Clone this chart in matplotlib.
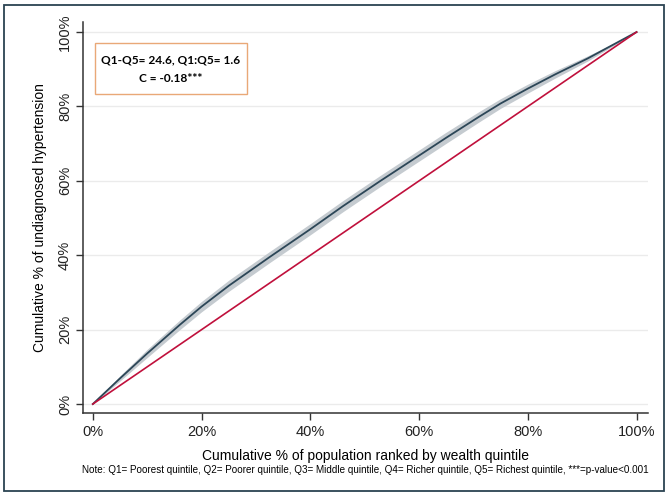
import matplotlib.pyplot as plt
from matplotlib.patches import Rectangle

# concentration curve (% of population, % of cases)
pop_pct = [0, 5, 10, 16, 20, 25, 32.6, 40, 46, 52.8, 60, 65, 71, 75, 80, 85, 91, 100]
cum_pct = [0, 6.9, 13.6, 21.3, 26.2, 31.8, 39.6, 47.0, 53.2, 59.9, 66.8, 71.6, 77.2, 80.8, 84.8, 88.6, 92.9, 100]
ci_low = [0, 6.2, 12.5, 20.0, 24.8, 30.3, 38.1, 45.5, 51.7, 58.4, 65.3, 70.1, 75.8, 79.5, 83.6, 87.6, 92.2, 100]
ci_high = [0, 7.6, 14.7, 22.6, 27.6, 33.3, 41.1, 48.5, 54.7, 61.4, 68.3, 73.1, 78.6, 82.1, 86.0, 89.6, 93.6, 100]
equality = [0, 100]

xticks = [0, 20, 40, 60, 80, 100]
tick_labels = ['0%', '20%', '40%', '60%', '80%', '100%']

box_lines = ['Q1-Q5= 24.6, Q1:Q5= 1.6', 'C = -0.18***']
note = ('Note: Q1= Poorest quintile, Q2= Poorer quintile, Q3= Middle quintile, '
        'Q4= Richer quintile, Q5= Richest quintile, ***=p-value<0.001')

plt.rcParams['font.family'] = ['Liberation Sans', 'DejaVu Sans']

W, H = 671, 496
fig = plt.figure(figsize=(W / 100, H / 100), dpi=100)
fig.patches.append(Rectangle((4 / W, 1 - 491 / H), 660 / W, 486 / H,
                             transform=fig.transFigure, fill=False,
                             edgecolor='#2b4352', linewidth=1.3))

ax = fig.add_axes([83 / W, 1 - 413 / H, 565 / W, 391 / H])
ax.fill_between(pop_pct, ci_low, ci_high, color='#c5cbd0', linewidth=0, zorder=2)
ax.plot(pop_pct, cum_pct, color='#2c4657', linewidth=1.3, zorder=3)
ax.plot(equality, equality, color='#c0103c', linewidth=1.2, zorder=4)

ax.set_xlim(-1.8, 102.1)
ax.set_ylim(-2.4, 102.7)
ax.set_xticks(xticks)
ax.set_xticklabels(tick_labels, fontsize=10.5, color='#222222')
ax.set_yticks(xticks)
ax.set_yticklabels(tick_labels, fontsize=10.5, color='#222222', rotation=90, va='center')
ax.tick_params(direction='out', length=5, width=1, color='#333333')
ax.tick_params(axis='x', pad=4)
ax.tick_params(axis='y', pad=3)
ax.yaxis.grid(True, color='#ebebeb', linewidth=1)
ax.set_axisbelow(True)
for side in ['top', 'right']:
    ax.spines[side].set_visible(False)
for side in ['left', 'bottom']:
    ax.spines[side].set_color('#333333')
    ax.spines[side].set_linewidth(1.1)

ax.set_xlabel('Cumulative % of population ranked by wealth quintile', fontsize=10, labelpad=7)
ax.set_ylabel('Cumulative % of undiagnosed hypertension', fontsize=10, labelpad=8)

# annotation box
fig.patches.append(Rectangle((95 / W, 1 - 94 / H), 152 / W, 51 / H, transform=fig.transFigure,
                             facecolor='white', edgecolor='#e9a877', linewidth=1, zorder=5))
for txt, ypix in zip(box_lines, [60, 79]):
    fig.text(171 / W, 1 - ypix / H, txt, ha='center', va='center', fontsize=8.6,
             fontweight='bold', family=['Lato', 'DejaVu Sans'], zorder=6)

fig.text(365 / W, 1 - 470 / H, note, ha='center', va='center', fontsize=7.1)

fig.savefig('out.png', dpi=100)
